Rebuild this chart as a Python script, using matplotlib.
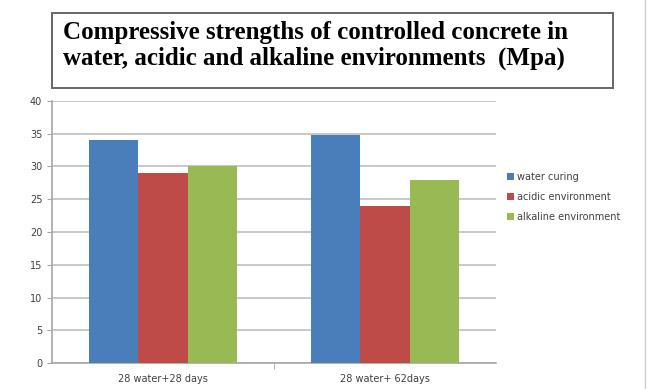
import matplotlib.pyplot as plt
import numpy as np
from matplotlib.patches import Rectangle

categories = ['28 water+28 days', '28 water+ 62days']
series_names = ['water curing', 'acidic environment', 'alkaline environment']
water_curing = [34.0, 34.8]
acidic_env = [29.0, 24.0]
alkaline_env = [30.0, 28.0]
colors = ['#4a7ebb', '#be4b48', '#98b954']
title_lines = ['Compressive strengths of controlled concrete in',
               'water, acidic and alkaline environments  (Mpa)']

fig = plt.figure(figsize=(6.56, 3.89), dpi=100)
W, H = 656, 389
ax = fig.add_axes([52 / W, 1 - 363 / H, (496 - 52) / W, (363 - 101) / H])

x = np.arange(len(categories))
bw = 0.223
for i, (vals, name) in enumerate(zip([water_curing, acidic_env, alkaline_env], series_names)):
    ax.bar(x + (i - 1) * bw, vals, bw, color=colors[i], label=name, zorder=3)

ax.set_xlim(-0.5, 1.5)
ax.set_ylim(0, 40)
ax.set_yticks(range(0, 41, 5))
ax.set_xticks(x)
ax.set_xticklabels(categories)
ax.grid(axis='y', color='#c4c4c4', linewidth=1.3, zorder=0)
for s in ['top', 'right']:
    ax.spines[s].set_visible(False)
for s in ['left', 'bottom']:
    ax.spines[s].set_color('#a6a6a6')
    ax.spines[s].set_linewidth(1.2)
ax.tick_params(axis='both', colors='#a6a6a6', labelcolor='#404040', labelsize=7)
ax.tick_params(axis='x', length=0, pad=8)
ax.set_xticks([0.5], minor=True)
ax.tick_params(axis='x', which='minor', length=4, color='#a6a6a6')

leg = fig.legend(loc='upper left', bbox_to_anchor=(498 / W, 1 - 163 / H), frameon=False,
                 fontsize=7, handlelength=0.7, handleheight=0.7, handletextpad=0.4,
                 labelspacing=1.05)
for t in leg.get_texts():
    t.set_color('#404040')

# title box
fig.patches.append(Rectangle((52 / W, 1 - 88 / H), (613 - 52) / W, (88 - 13) / H,
                             transform=fig.transFigure, fill=False, edgecolor='#666666',
                             linewidth=1.4))
for line, ly in zip(title_lines, [32, 58]):
    fig.text(63 / W, 1 - ly / H, line, fontsize=18, fontweight='bold',
             family='Liberation Serif', va='center', ha='left')

# right border line
fig.add_artist(plt.Line2D([645 / W, 645 / W], [0, 1], transform=fig.transFigure,
                          color='#d0d0d0', linewidth=1))

plt.savefig('out.png', dpi=100)
